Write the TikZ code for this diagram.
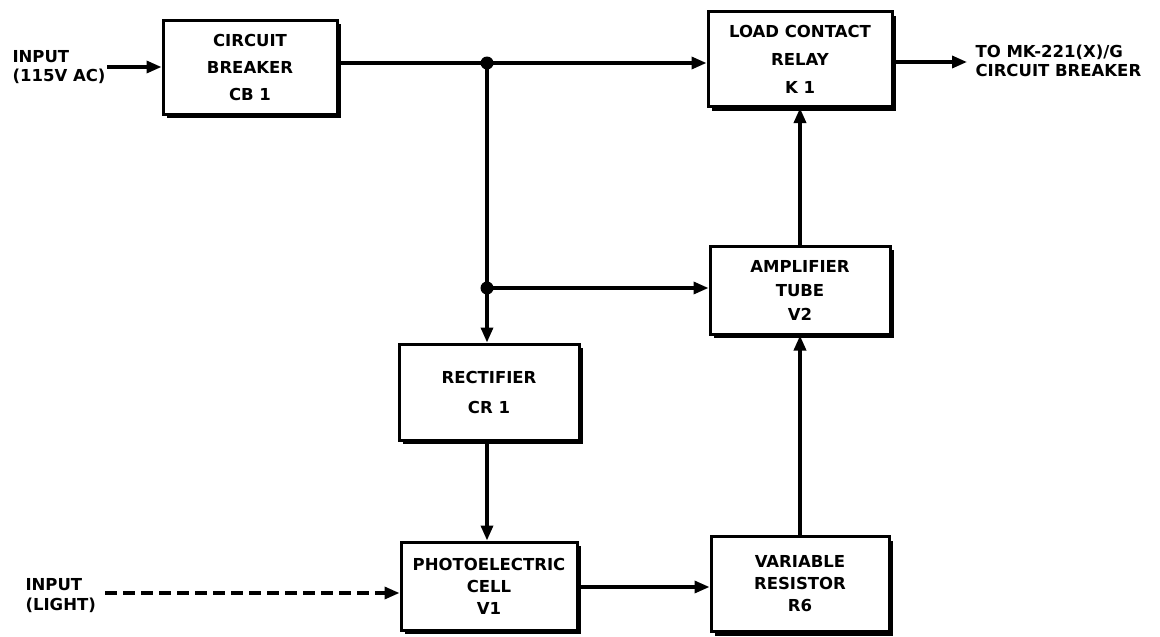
\documentclass[tikz,border=0pt]{standalone}
\usepackage{fontspec}
\setmainfont{DejaVu Sans}[BoldFont={DejaVu Sans Bold}]
\usetikzlibrary{arrows.meta,shadows}
\begin{document}
\begin{tikzpicture}[x=1pt,y=-1pt,
  lbl/.style={font={\bfseries\fontsize{16.5}{#1}\selectfont}},
  lbl/.default=25,
  blk/.style={draw,line width=3pt,fill=white,inner sep=0pt,align=center,
    drop shadow={shadow xshift=4pt,shadow yshift=-4pt,opacity=1,fill=black}},
  wire/.style={line width=3.4pt},
  arr/.style={wire,-{Triangle[length=15pt,width=12pt]}},
  dot/.style={circle,fill=black,inner sep=0pt,minimum size=13pt}]
\useasboundingbox (0,0) rectangle (1160,637);
% blocks
\node[blk,lbl=27,minimum width=174pt,minimum height=94pt] (CB) at (250,67) {CIRCUIT\\BREAKER\\CB 1};
\node[blk,lbl=28,minimum width=184pt,minimum height=95pt] (K1) at (800,59) {LOAD CONTACT\\RELAY\\K 1};
\node[blk,lbl=24,minimum width=180pt,minimum height=88pt] (AMP) at (800,290) {AMPLIFIER\\TUBE\\V2};
\node[blk,lbl=30,minimum width=180pt,minimum height=96pt] (RECT) at (489,392) {RECTIFIER\\CR 1};
\node[blk,lbl=22,minimum width=176pt,minimum height=88pt] (PHOTO) at (489,586) {PHOTOELECTRIC\\CELL\\V1};
\node[blk,lbl=22,minimum width=178pt,minimum height=95pt] (RES) at (800,584) {VARIABLE\\RESISTOR\\R6};
% side labels
\node[lbl=19,anchor=west,align=left] (inlbl) at (9,67) {INPUT\\(115V AC)};
\node[lbl=20,anchor=west,align=left] (lightlbl) at (22,596) {INPUT\\(LIGHT)};
\node[lbl=19,anchor=west,align=left] (outlbl) at (972,61) {TO MK-221(X)/G\\CIRCUIT BREAKER};
% coordinates
\coordinate (in1) at (107,67);
\coordinate (j1) at (487,63);
\coordinate (j2) at (487,288);
\coordinate (out) at (967,62);
\coordinate (lt) at (105,593);
% connectors
\draw[arr] (in1) -- (in1 -| CB.west);
\draw[wire] (CB.east |- j1) -- (j1);
\draw[arr] (j1) -- (j1 -| K1.west);
\draw[wire] (j1) -- (j2);
\draw[arr] (j2) -- (j2 |- RECT.north);
\draw[arr] (j2) -- (j2 -| AMP.west);
\draw[arr] (j2 |- RECT.south) -- (j2 |- PHOTO.north);
\draw[arr] (PHOTO.east |- 0,587) -- (RES.west |- 0,587);
\draw[arr] (RES.north) -- (AMP.south);
\draw[arr] (AMP.north) -- (K1.south);
\draw[arr] (K1.east |- out) -- (out);
\draw[arr,dash pattern=on 12pt off 6pt] (lt) -- (lt -| PHOTO.west);
\node[dot] (d1) at (j1) {};
\node[dot] (d2) at (j2) {};
\end{tikzpicture}
\end{document}
